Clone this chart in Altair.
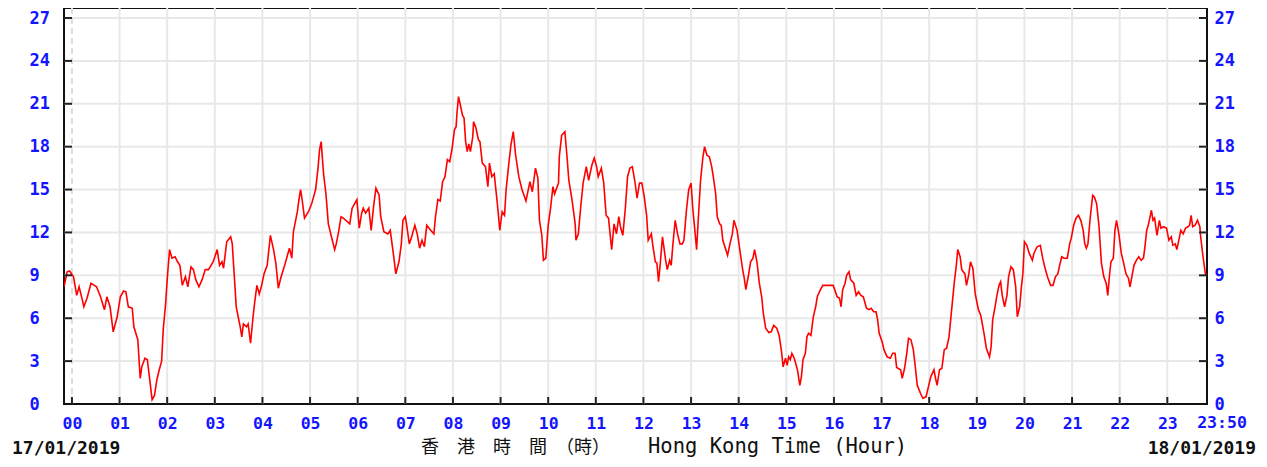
import altair as alt
import pandas as pd

# ---- data (minutes from 00:00, value) ----
minutes = [
    -10, -6, -3, 2, 6, 9, 13, 15, 19, 24, 31, 36, 41, 44, 48, 52, 57, 61, 65, 68,
    71, 76, 78, 83, 86, 88, 92, 95, 98, 101, 104, 107, 110, 113, 115, 118, 120, 123, 126, 130,
    133, 136, 139, 143, 146, 150, 153, 156, 160, 164, 168, 172, 178, 183, 186, 189, 191, 195, 200, 202,
    207, 212, 214, 216, 220, 222, 225, 228, 230, 233, 236, 239, 242, 246, 250, 254, 257, 260, 263, 268,
    271, 274, 277, 279, 284, 286, 288, 290, 293, 298, 302, 307, 310, 312, 314, 317, 320, 323, 328, 331,
    333, 336, 339, 342, 347, 350, 353, 356, 359, 362, 365, 367, 370, 374, 377, 380, 383, 387, 389, 393,
    398, 401, 404, 406, 408, 412, 415, 417, 420, 422, 425, 428, 432, 435, 438, 441, 444, 447, 452, 456,
    458, 461, 464, 467, 470, 473, 476, 479, 482, 484, 485, 487, 489, 492, 494, 496, 498, 500, 502, 505,
    506, 509, 512, 514, 517, 521, 524, 526, 529, 532, 536, 539, 542, 545, 547, 550, 553, 556, 559, 563,
    567, 572, 577, 580, 584, 587, 589, 592, 594, 597, 600, 603, 606, 608, 610, 613, 614, 617, 621, 624,
    626, 630, 634, 635, 638, 641, 644, 648, 651, 655, 658, 661, 663, 667, 670, 673, 676, 678, 680, 683,
    686, 689, 691, 694, 697, 700, 703, 706, 709, 712, 715, 718, 721, 724, 726, 730, 732, 735, 737, 739,
    741, 744, 748, 750, 753, 755, 757, 760, 763, 766, 769, 771, 774, 777, 780, 782, 784, 787, 789, 792,
    795, 797, 800, 803, 806, 808, 811, 813, 816, 818, 820, 822, 826, 829, 832, 834, 838, 842, 845, 847,
    849, 852, 855, 858, 860, 863, 866, 869, 871, 874, 878, 881, 884, 888, 891, 894, 896, 899, 901, 903,
    905, 907, 910, 914, 917, 919, 921, 924, 926, 928, 931, 934, 937, 939, 943, 946, 951, 959, 961, 964,
    967, 969, 971, 974, 976, 979, 981, 985, 988, 991, 994, 997, 1001, 1004, 1007, 1010, 1013, 1015, 1017, 1021,
    1023, 1027, 1031, 1034, 1037, 1039, 1044, 1046, 1049, 1052, 1054, 1057, 1060, 1062, 1065, 1069, 1072, 1076, 1079, 1082,
    1086, 1088, 1090, 1093, 1096, 1099, 1102, 1105, 1109, 1112, 1114, 1116, 1119, 1121, 1125, 1127, 1130, 1132, 1135, 1138,
    1142, 1145, 1149, 1152, 1156, 1158, 1160, 1163, 1165, 1168, 1170, 1172, 1175, 1178, 1180, 1183, 1186, 1189, 1191, 1194,
    1196, 1198, 1200, 1203, 1206, 1210, 1212, 1216, 1220, 1223, 1226, 1229, 1233, 1236, 1239, 1242, 1245, 1247, 1250, 1254,
    1257, 1259, 1262, 1265, 1268, 1271, 1274, 1276, 1278, 1280, 1283, 1286, 1288, 1291, 1294, 1297, 1300, 1303, 1305, 1307,
    1309, 1312, 1314, 1316, 1319, 1322, 1325, 1328, 1331, 1333, 1336, 1338, 1341, 1344, 1347, 1350, 1352, 1354, 1356, 1360,
    1362, 1364, 1367, 1370, 1372, 1375, 1379, 1382, 1385, 1387, 1390, 1392, 1395, 1397, 1400, 1403, 1406, 1408, 1410, 1412,
    1415, 1418, 1421, 1422, 1425, 1428, 1430,
]
values = [
    8.2, 9.25, 9.3, 8.9, 7.6, 8.2, 7.3, 6.8, 7.4, 8.45, 8.2, 7.5, 6.6, 7.5, 6.8, 5.05, 6.1, 7.5, 7.9, 7.85,
    6.8, 6.7, 5.4, 4.5, 1.8, 2.6, 3.2, 3.1, 1.7, 0.3, 0.6, 1.7, 2.4, 3.0, 5.2, 7.0, 8.7, 10.8, 10.2, 10.3,
    9.95, 9.7, 8.3, 8.9, 8.2, 9.6, 9.4, 8.7, 8.2, 8.7, 9.4, 9.4, 9.95, 10.8, 9.7, 9.95, 9.5, 11.35, 11.7, 11.2,
    6.8, 5.4, 4.7, 5.6, 5.4, 5.6, 4.25, 6.0, 7.0, 8.3, 7.7, 8.3, 9.1, 9.7, 11.8, 10.8, 9.8, 8.1, 8.8, 9.7,
    10.3, 10.9, 10.2, 12.05, 13.45, 14.3, 15.0, 14.3, 13.0, 13.45, 14.0, 15.0, 16.5, 17.8, 18.35, 16.1, 14.7, 12.6, 11.45, 10.8,
    11.2, 12.05, 13.1, 13.0, 12.75, 12.6, 13.7, 14.0, 14.3, 12.3, 13.35, 13.7, 13.35, 13.7, 12.15, 13.8, 15.1, 14.6, 13.1, 12.05,
    11.9, 12.15, 10.9, 10.05, 9.1, 9.95, 11.2, 12.85, 13.1, 12.4, 11.2, 11.7, 12.5, 11.9, 10.9, 11.45, 11.0, 12.5, 12.15, 11.9,
    13.1, 14.3, 14.2, 15.55, 15.9, 17.1, 16.95, 17.9, 19.2, 19.4, 20.3, 21.5, 21.0, 20.2, 20.0, 18.35, 17.65, 18.2, 17.65, 18.7,
    19.75, 19.3, 18.5, 18.35, 16.85, 16.6, 15.2, 16.85, 15.9, 16.1, 14.0, 12.15, 13.45, 13.2, 15.0, 16.6, 18.1, 19.05, 17.4, 15.9,
    15.0, 14.2, 15.55, 14.85, 16.5, 15.8, 12.85, 11.8, 10.05, 10.2, 12.5, 13.7, 15.2, 14.7, 15.0, 15.45, 17.3, 18.8, 19.05, 17.1,
    15.65, 14.3, 12.6, 11.45, 11.9, 13.8, 15.45, 16.6, 15.65, 16.7, 17.2, 16.6, 15.9, 16.5, 15.45, 13.2, 13.0, 11.9, 10.8, 12.6,
    11.9, 13.1, 12.4, 11.8, 13.55, 15.9, 16.5, 16.6, 15.65, 14.4, 15.45, 15.45, 14.5, 13.2, 11.45, 11.9, 11.0, 9.95, 9.85, 8.55,
    9.7, 11.7, 10.05, 9.4, 10.05, 9.7, 11.1, 12.85, 11.9, 11.2, 11.2, 11.45, 13.45, 15.0, 15.45, 13.8, 12.6, 10.8, 12.85, 15.65,
    17.3, 18.0, 17.4, 17.3, 16.6, 15.9, 14.7, 13.1, 12.6, 12.5, 11.45, 11.1, 10.4, 11.2, 11.9, 12.85, 12.15, 10.55, 9.4, 8.8,
    8.0, 8.9, 9.95, 10.2, 10.8, 9.95, 8.45, 7.5, 6.35, 5.3, 5.0, 5.05, 5.5, 5.3, 4.8, 3.65, 2.6, 3.2, 2.7, 3.3,
    3.1, 3.55, 3.2, 2.4, 1.3, 1.9, 3.1, 3.55, 4.7, 4.95, 4.8, 6.1, 6.8, 7.5, 8.0, 8.3, 8.3, 8.3, 8.0, 7.5,
    7.4, 6.8, 8.0, 8.45, 9.0, 9.25, 8.7, 8.45, 7.6, 7.85, 7.6, 7.5, 6.7, 6.6, 6.7, 6.45, 6.45, 5.9, 4.95, 4.3,
    3.8, 3.3, 3.2, 3.55, 3.55, 2.55, 2.4, 1.8, 2.5, 3.65, 4.6, 4.5, 3.8, 2.85, 1.3, 0.75, 0.4, 0.5, 1.2, 1.9,
    2.4, 1.8, 1.3, 2.4, 2.5, 3.8, 3.9, 4.7, 7.0, 8.7, 9.6, 10.8, 10.3, 9.4, 9.1, 8.3, 9.1, 9.95, 9.5, 7.7,
    6.6, 6.2, 4.95, 3.9, 3.3, 4.0, 5.9, 6.8, 7.5, 8.3, 8.55, 7.6, 6.8, 7.6, 8.9, 9.6, 9.4, 8.2, 6.1, 6.8,
    8.1, 9.1, 11.35, 11.1, 10.55, 10.05, 10.55, 11.0, 11.1, 10.2, 9.5, 8.9, 8.3, 8.3, 8.9, 9.1, 9.85, 10.3, 10.2, 10.2,
    11.2, 11.6, 12.5, 13.0, 13.2, 12.85, 12.15, 11.2, 10.9, 11.2, 13.1, 14.6, 14.5, 14.0, 12.4, 9.85, 8.9, 8.45, 7.6, 8.9,
    9.95, 10.2, 12.15, 12.85, 11.9, 10.55, 9.85, 9.1, 8.8, 8.2, 9.1, 9.7, 10.05, 10.3, 10.05, 10.2, 11.1, 12.15, 12.5, 13.55,
    12.85, 13.0, 11.8, 12.85, 12.3, 12.4, 12.3, 11.45, 11.7, 11.1, 11.2, 10.8, 11.6, 12.15, 11.9, 12.3, 12.4, 12.5, 13.2, 12.4,
    12.5, 12.85, 12.4, 11.7, 10.3, 9.1, 9.0,
]
hour_ticks = [h * 60 for h in range(24)]
y_ticks = [0, 3, 6, 9, 12, 15, 18, 21, 24, 27]
end_label = ["23:50"]
end_minute = [1430]
date_left = ["17/01/2019"]
date_right = ["18/01/2019"]
title_cjk = ["香　港　時　間　（時）"]
title_en = ["Hong Kong Time (Hour)"]

W, H = 1143, 396
FONT = "DejaVu Sans Mono"
BLUE = "#1414ff"
GRID = "#e8e8e8"
LBL = 16.5

xs = alt.Scale(domain=[-10, 1430], nice=False, zero=False)
ys = alt.Scale(domain=[0, 27.7], nice=False, zero=False)

df = pd.DataFrame({"m": minutes, "v": values})
df_hours = pd.DataFrame({"m": hour_ticks})
df_hgrid = pd.DataFrame({"v": y_ticks[1:]})

x_axis = alt.Axis(
    orient="bottom", values=hour_ticks,
    labelExpr="(datum.value < 600 ? '0' : '') + (datum.value / 60)",
    ticks=False, tickSize=0, domain=False, grid=False, title=None,
    labelFont=FONT, labelFontWeight="bold", labelFontSize=LBL, labelColor=BLUE,
    labelPadding=11, labelFlush=False, labelOverlap=False,
)
left_axis = alt.Axis(
    orient="left", values=y_ticks, ticks=False, tickSize=0, domain=False, grid=False,
    title=None, labelAlign="left", labelBaseline="middle", labelPadding=35,
    labelFont=FONT, labelFontWeight="bold", labelFontSize=17, labelColor=BLUE,
    labelOverlap=False, labelFlush=False,
)
right_axis = alt.Axis(
    orient="right", values=y_ticks, ticks=False, tickSize=0, domain=False, grid=False,
    title=None, labelAlign="left", labelBaseline="middle", labelPadding=7,
    labelFont=FONT, labelFontWeight="bold", labelFontSize=17, labelColor=BLUE,
    labelOverlap=False, labelFlush=False,
)

hgrid = alt.Chart(df_hgrid).mark_rule(color=GRID, strokeWidth=2).encode(
    y=alt.Y("v:Q", scale=ys, axis=left_axis)
)
vgrid = alt.Chart(df_hours[df_hours.m > 0]).mark_rule(color=GRID, strokeWidth=2).encode(
    x=alt.X("m:Q", scale=xs, axis=x_axis)
)
vzero = alt.Chart(df_hours[df_hours.m == 0]).mark_rule(
    color="#dcdcdc", strokeWidth=2, strokeDash=[6, 4]
).encode(x=alt.X("m:Q", scale=xs, axis=None))

line = alt.Chart(df).mark_line(color="#ff0000", strokeWidth=1.6, clip=True).encode(
    x=alt.X("m:Q", scale=xs, axis=None),
    y=alt.Y("v:Q", scale=ys, axis=None),
)

ltick = alt.Chart(df_hgrid).mark_rule(color="#222222", strokeWidth=2).encode(
    y=alt.Y("v:Q", scale=ys, axis=None), x=alt.value(0), x2=alt.value(8)
)
rtick = alt.Chart(df_hgrid).mark_rule(color="#222222", strokeWidth=2).encode(
    y=alt.Y("v:Q", scale=ys, axis=right_axis), x=alt.value(W - 8), x2=alt.value(W)
)
btick = alt.Chart(df_hours).mark_rule(color="#222222", strokeWidth=2).encode(
    x=alt.X("m:Q", scale=xs, axis=None), y=alt.value(H - 7), y2=alt.value(H)
)

end_txt = alt.Chart(pd.DataFrame({"m": end_minute, "t": end_label})).mark_text(
    font=FONT, fontWeight="bold", fontSize=LBL, color=BLUE, baseline="top", align="center", dx=15
).encode(x=alt.X("m:Q", scale=xs, axis=None), y=alt.value(H + 11), text="t:N")

d_left = alt.Chart(pd.DataFrame({"t": date_left})).mark_text(
    font=FONT, fontWeight="bold", fontSize=18, color="#111111", align="left", baseline="alphabetic"
).encode(x=alt.value(-52), y=alt.value(446), text="t:N")
d_right = alt.Chart(pd.DataFrame({"t": date_right})).mark_text(
    font=FONT, fontWeight="bold", fontSize=18, color="#111111", align="right", baseline="alphabetic"
).encode(x=alt.value(1192), y=alt.value(446), text="t:N")

t_cjk = alt.Chart(pd.DataFrame({"t": title_cjk})).mark_text(
    font="Noto Sans CJK TC", fontSize=18, color="#111111", align="left", baseline="alphabetic"
).encode(x=alt.value(357), y=alt.value(445), text="t:N")
t_en = alt.Chart(pd.DataFrame({"t": title_en})).mark_text(
    font=FONT, fontSize=20.5, color="#111111", align="left", baseline="alphabetic"
).encode(x=alt.value(584), y=alt.value(445), text="t:N")

chart = (
    alt.layer(hgrid, vgrid, vzero, line, ltick, rtick, btick, end_txt, d_left, d_right, t_cjk, t_en)
    .properties(
        width=W, height=H,
        padding={"left": 56, "top": 0, "right": 52, "bottom": 55},
        autosize=alt.AutoSizeParams(type="none"),
    )
    .resolve_axis(x="independent", y="independent")
    .configure_view(stroke="#111111", strokeWidth=2)
)

chart.save("out.html", embed_options={"renderer": "svg", "actions": False})
